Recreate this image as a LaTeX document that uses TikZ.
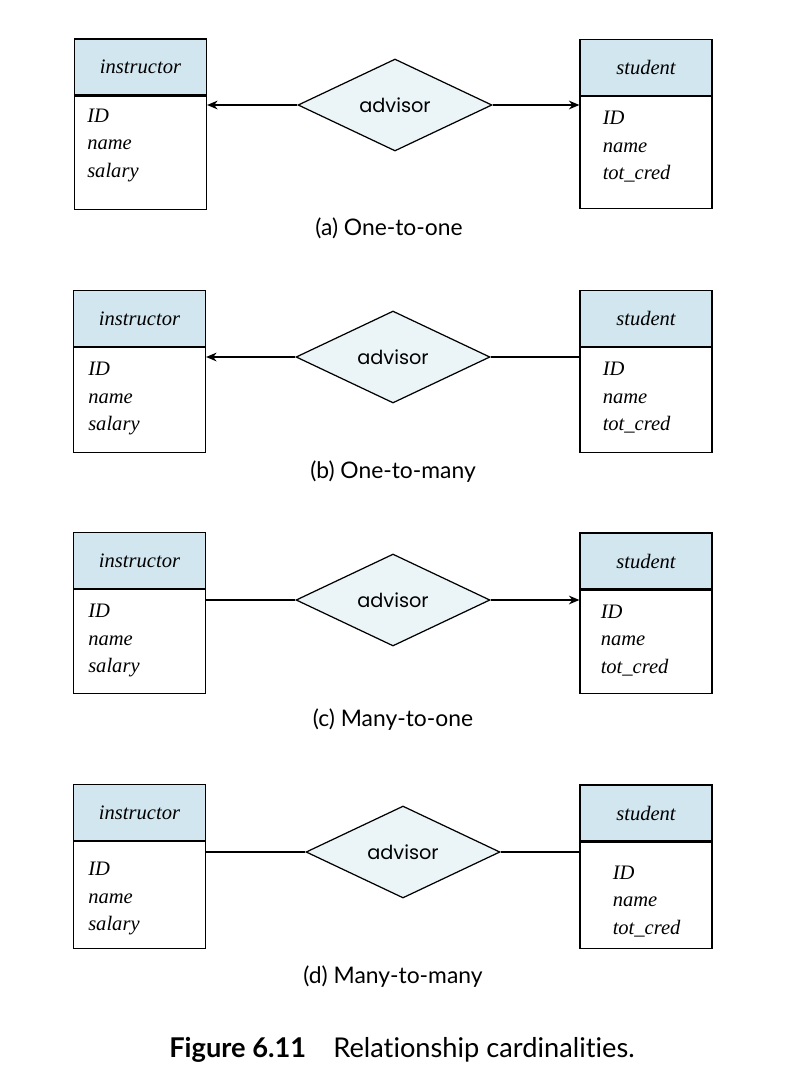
\documentclass[tikz,border=0pt]{standalone}
\usepackage{fontspec}
\setmainfont{Liberation Serif}
\newfontfamily\relfont{Poppins}
\newfontfamily\capfont[Ligatures={NoCommon,NoRare,NoContextual}]{Lato}
\usepackage{tikz}
\usetikzlibrary{positioning,shapes.geometric,arrows.meta}
\definecolor{headblue}{HTML}{D1E6EF}
\definecolor{relblue}{HTML}{EBF5F8}

\begin{document}
\begin{tikzpicture}[x=0.02cm,y=-0.02cm,
    ehead/.style={draw,line width=0.7pt,fill=headblue,minimum width=2.64cm,minimum height=1.12cm,inner sep=0pt,font=\itshape\fontsize{11.7}{13}\selectfont},
    ebody/.style={draw,line width=0.7pt,fill=white,minimum width=2.64cm,inner sep=0pt},
    attrs/.style={anchor=north west,inner sep=0pt,align=left,font=\itshape\fontsize{11.7}{15.6}\selectfont},
    rel/.style={diamond,draw,line width=0.7pt,fill=relblue,minimum width=3.88cm,minimum height=1.84cm,inner sep=0pt,font=\relfont\fontsize{11}{12}\selectfont},
    conn/.style={line width=0.7pt},
    tip/.style={conn,-{Stealth[length=6pt,width=5pt]}},
    subcap/.style={font=\capfont\fontsize{13}{15}\selectfont}]
    \useasboundingbox (0,0) rectangle (800,1086);

    % (a) one-to-one
    \node[ehead] (ins-a) at (140.5,67) {instructor};
    \node[ebody,minimum height=2.26cm,below=0pt of ins-a] (ins-a-body) {};
    \node[attrs] (ins-a-att) at ([shift={(13,13)}]ins-a-body.north west) {ID\\name\\salary};
    \node[ehead] (stu-a) at (646,67.5) {student};
    \node[ebody,minimum height=2.24cm,below=0pt of stu-a] (stu-a-body) {};
    \node[attrs] (stu-a-att) at ([shift={(23,15)}]stu-a-body.north west) {ID\\name\\tot\_cred};
    \node[rel] (adv-a) at (395,105) {advisor};
    \draw[tip] (adv-a.west) -- (adv-a.west -| ins-a-body.east);
    \draw[tip] (adv-a.east) -- (adv-a.east -| stu-a-body.west);
    \node[subcap] (cap-a) at (389,228) {(a) One-to-one};

    % (b) one-to-many
    \node[ehead] (ins-b) at (139.5,318.5) {instructor};
    \node[ebody,minimum height=2.1cm,below=0pt of ins-b] (ins-b-body) {};
    \node[attrs] (ins-b-att) at ([shift={(15,15)}]ins-b-body.north west) {ID\\name\\salary};
    \node[ehead] (stu-b) at (646,318.5) {student};
    \node[ebody,minimum height=2.1cm,below=0pt of stu-b] (stu-b-body) {};
    \node[attrs] (stu-b-att) at ([shift={(23,15)}]stu-b-body.north west) {ID\\name\\tot\_cred};
    \node[rel] (adv-b) at (393,357) {advisor};
    \draw[tip] (adv-b.west) -- (adv-b.west -| ins-b-body.east);
    \draw[conn] (adv-b.east) -- (adv-b.east -| stu-b-body.west);
    \node[subcap] (cap-b) at (393,472) {(b) One-to-many};

    % (c) many-to-one
    \node[ehead] (ins-c) at (139.5,560.5) {instructor};
    \node[ebody,minimum height=2.08cm,below=0pt of ins-c] (ins-c-body) {};
    \node[attrs] (ins-c-att) at ([shift={(15,15)}]ins-c-body.north west) {ID\\name\\salary};
    \node[ehead] (stu-c) at (646,561) {student};
    \node[ebody,minimum height=2.06cm,below=0pt of stu-c] (stu-c-body) {};
    \node[attrs] (stu-c-att) at ([shift={(21,15)}]stu-c-body.north west) {ID\\name\\tot\_cred};
    \node[rel] (adv-c) at (393,600) {advisor};
    \draw[conn] (adv-c.west) -- (adv-c.west -| ins-c-body.east);
    \draw[tip] (adv-c.east) -- (adv-c.east -| stu-c-body.west);
    \node[subcap] (cap-c) at (393,720) {(c) Many-to-one};

    % (d) many-to-many
    \node[ehead] (ins-d) at (139.5,812.5) {instructor};
    \node[ebody,minimum height=2.14cm,below=0pt of ins-d] (ins-d-body) {};
    \node[attrs] (ins-d-att) at ([shift={(15,21)}]ins-d-body.north west) {ID\\name\\salary};
    \node[ehead] (stu-d) at (646,813) {student};
    \node[ebody,minimum height=2.12cm,below=0pt of stu-d] (stu-d-body) {};
    \node[attrs] (stu-d-att) at ([shift={(33,24)}]stu-d-body.north west) {ID\\name\\tot\_cred};
    \node[rel] (adv-d) at (403,852) {advisor};
    \draw[conn] (adv-d.west) -- (adv-d.west -| ins-d-body.east);
    \draw[conn] (adv-d.east) -- (adv-d.east -| stu-d-body.west);
    \node[subcap] (cap-d) at (393,977) {(d) Many-to-many};

    \node[font=\capfont\fontsize{15.5}{18}\selectfont] (fig) at (402,1050) {\textbf{Figure 6.11}\hspace{1em}Relationship cardinalities.};
\end{tikzpicture}
\end{document}
